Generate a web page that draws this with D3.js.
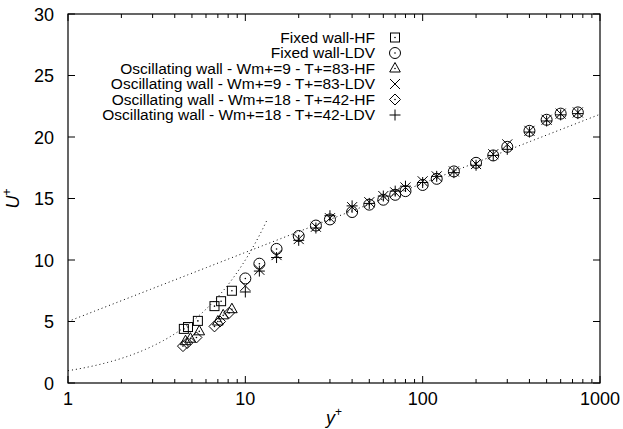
<!DOCTYPE html>
<html>
<head>
<meta charset="utf-8">
<script src="https://cdn.jsdelivr.net/npm/d3@7/dist/d3.min.js"></script>
<style>
  html, body { margin: 0; padding: 0; background: #fff; }
  svg { display: block; }
  text { font-family: "Liberation Sans", Arial, Helvetica, sans-serif; fill: #000; }
</style>
</head>
<body>
<div id="chart"></div>
<script>
// Near-wall hot-film (HF) points
const yHFFixed = [4.5, 4.75, 5.4, 6.7, 7.3, 8.4];
const uHFFixed = [4.4, 4.55, 5.05, 6.25, 6.65, 7.5];
const yHFOsc9 = [4.6, 4.9, 5.5, 7.0, 7.5, 8.4];
const uHFOsc9 = [3.4, 3.6, 4.2, 5.0, 5.5, 6.0];
const yHFOsc18 = [4.45, 4.7, 5.3, 6.7, 7.2, 8.1];
const uHFOsc18 = [3.0, 3.25, 3.7, 4.6, 5.0, 5.7];

// LDV profile points
const yLDV = [10, 12, 15, 20, 25, 30, 40, 50, 60, 70, 80, 100, 120, 150, 200, 250, 300, 400, 500, 600, 750];
const uLDVFixed = [8.5, 9.7, 10.9, 11.95, 12.8, 13.3, 13.9, 14.5, 14.9, 15.3, 15.6, 16.1, 16.6, 17.2, 17.9, 18.5, 19.2, 20.5, 21.4, 21.9, 22.0];
const uLDVOsc9 = [7.9, 9.2, 10.4, 11.7, 12.7, 13.4, 14.3, 14.7, 15.2, 15.5, 15.9, 16.4, 16.8, 17.2, 17.8, 18.6, 19.4, 20.5, 21.4, 21.9, 22.0];
const uLDVOsc18 = [7.4, 9.1, 10.2, 11.6, 12.6, 13.6, 14.4, 14.6, 15.2, 15.6, 16.0, 16.3, 16.8, 17.1, 17.7, 18.5, 19.0, 20.4, 21.3, 21.8, 21.9];

const seriesNames = [
  "Fixed wall-HF",
  "Fixed wall-LDV",
  "Oscillating wall - Wm+=9 - T+=83-HF",
  "Oscillating wall - Wm+=9 - T+=83-LDV",
  "Oscillating wall - Wm+=18 - T+=42-HF",
  "Oscillating wall - Wm+=18 - T+=42-LDV"
];
const seriesSymbols = ["square", "circle", "triangle", "cross", "diamond", "plus"];

const xTickValues = [1, 10, 100, 1000];
const yTickValues = [0, 5, 10, 15, 20, 25, 30];

// Reference laws: viscous sublayer and log law
const kappa = 0.41, B = 5.0;

const W = 623, H = 429;
const margin = { left: 68, right: 23, top: 14, bottom: 46 };

const svg = d3.select("#chart").append("svg").attr("width", W).attr("height", H);

const x = d3.scaleLog().domain([1, 1000]).range([margin.left, W - margin.right]);
const y = d3.scaleLinear().domain([0, 30]).range([H - margin.bottom, margin.top]);

const x0 = x.range()[0], x1 = x.range()[1], y0 = y.range()[0], y1 = y.range()[1];

// Ticks (inward, mirrored on all sides)
const minorX = [];
for (let d = 1; d < 1000; d *= 10) for (let k = 2; k <= 9; k++) minorX.push(d * k);

const ax = svg.append("g").attr("stroke", "#000").attr("stroke-width", 1);
xTickValues.forEach(v => {
  ax.append("line").attr("x1", x(v)).attr("x2", x(v)).attr("y1", y0).attr("y2", y0 - 7);
  ax.append("line").attr("x1", x(v)).attr("x2", x(v)).attr("y1", y1).attr("y2", y1 + 7);
});
minorX.forEach(v => {
  ax.append("line").attr("x1", x(v)).attr("x2", x(v)).attr("y1", y0).attr("y2", y0 - 4);
  ax.append("line").attr("x1", x(v)).attr("x2", x(v)).attr("y1", y1).attr("y2", y1 + 4);
});
yTickValues.forEach(v => {
  ax.append("line").attr("x1", x0).attr("x2", x0 + 7).attr("y1", y(v)).attr("y2", y(v));
  ax.append("line").attr("x1", x1).attr("x2", x1 - 7).attr("y1", y(v)).attr("y2", y(v));
});

// Tick labels
svg.append("g").selectAll("text").data(xTickValues).join("text")
  .attr("x", d => x(d)).attr("y", y0 + 22)
  .attr("text-anchor", "middle").attr("font-size", 18)
  .text(d => d);
svg.append("g").selectAll("text").data(yTickValues).join("text")
  .attr("x", x0 - 14).attr("y", d => y(d) + 6.5)
  .attr("text-anchor", "end").attr("font-size", 18)
  .text(d => d);

// Axis titles
const xt = svg.append("text").attr("x", (x0 + x1) / 2).attr("y", H - 5)
  .attr("text-anchor", "middle").attr("font-size", 18);
xt.append("tspan").attr("font-style", "italic").text("y");
xt.append("tspan").attr("font-size", 12).attr("dy", -8).text("+");

const yt = svg.append("text")
  .attr("transform", `translate(19, ${(y0 + y1) / 2}) rotate(-90)`)
  .attr("text-anchor", "middle").attr("font-size", 18);
yt.append("tspan").attr("font-style", "italic").text("U");
yt.append("tspan").attr("font-size", 12).attr("dy", -8).text("+");

// Clip for curves
svg.append("clipPath").attr("id", "plotclip").append("rect")
  .attr("x", x0).attr("y", y1).attr("width", x1 - x0).attr("height", y0 - y1);

const line = d3.line().x(d => x(d[0])).y(d => y(d[1]));
const visc = d3.range(0, 201).map(i => { const yp = Math.pow(10, i / 200 * Math.log10(13.2)); return [yp, yp]; });
const logl = d3.range(0, 201).map(i => { const yp = Math.pow(10, i / 200 * 3); return [yp, Math.log(yp) / kappa + B]; });

const curves = svg.append("g").attr("clip-path", "url(#plotclip)")
  .attr("fill", "none").attr("stroke", "#000").attr("stroke-width", 1)
  .attr("stroke-dasharray", "1,3");
curves.append("path").attr("d", line(visc));
curves.append("path").attr("d", line(logl));

// Marker drawing
function drawSymbol(g, type, cx, cy) {
  const s = g.append("g").attr("transform", `translate(${cx},${cy})`)
    .attr("fill", "none").attr("stroke", "#000").attr("stroke-width", 1);
  const dot = () => s.append("circle").attr("r", 0.8).attr("fill", "#000").attr("stroke", "none");
  if (type === "square") { s.append("rect").attr("x", -4.5).attr("y", -4.5).attr("width", 9).attr("height", 9); dot(); }
  else if (type === "circle") { s.append("circle").attr("r", 5.5); dot(); }
  else if (type === "triangle") { s.append("path").attr("d", "M0,-6L5.3,3.5L-5.3,3.5Z"); dot(); }
  else if (type === "diamond") { s.append("path").attr("d", "M0,-5.5L5.5,0L0,5.5L-5.5,0Z"); dot(); }
  else if (type === "cross") { s.append("path").attr("d", "M-5,-5L5,5M-5,5L5,-5"); }
  else if (type === "plus") { s.append("path").attr("d", "M-5.5,0L5.5,0M0,-5.5L0,5.5"); }
}

const seriesData = [
  [yHFFixed, uHFFixed],
  [yLDV, uLDVFixed],
  [yHFOsc9, uHFOsc9],
  [yLDV, uLDVOsc9],
  [yHFOsc18, uHFOsc18],
  [yLDV, uLDVOsc18]
];

const pts = svg.append("g");
seriesData.forEach((sd, i) => {
  sd[0].forEach((yp, j) => drawSymbol(pts, seriesSymbols[i], x(yp), y(sd[1][j])));
});

// Legend
const leg = svg.append("g");
seriesNames.forEach((name, i) => {
  const ly = 37.5 + i * 15.5;
  leg.append("text").attr("x", 375).attr("y", ly + 5)
    .attr("text-anchor", "end").attr("font-size", 15.5).text(name);
  drawSymbol(leg, seriesSymbols[i], 395, ly);
});

// Frame
svg.append("rect").attr("x", x0).attr("y", y1).attr("width", x1 - x0).attr("height", y0 - y1)
  .attr("fill", "none").attr("stroke", "#000").attr("stroke-width", 1.2);
</script>
</body>
</html>
